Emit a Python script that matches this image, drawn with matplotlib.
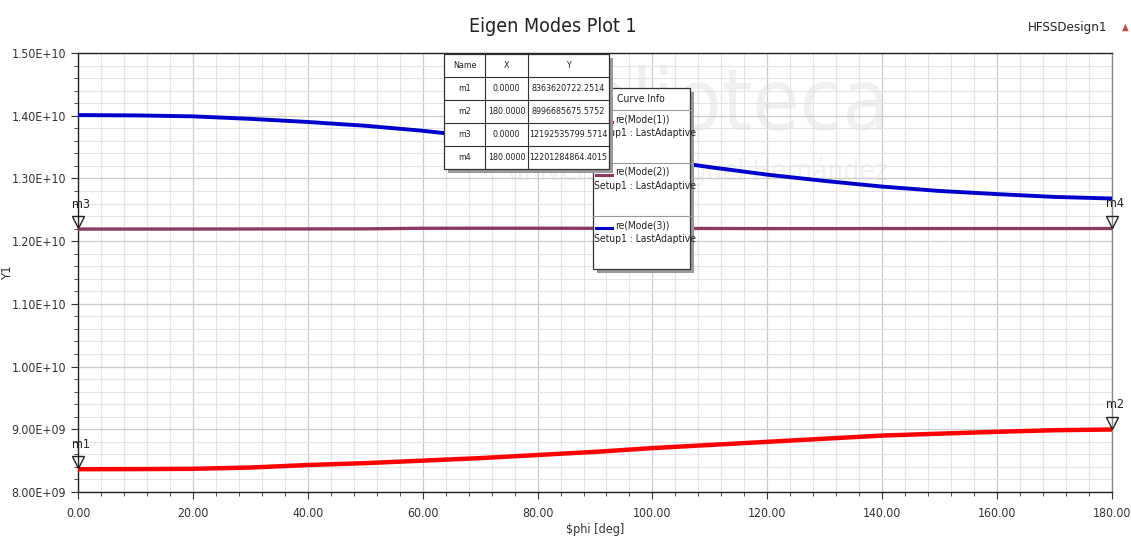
import matplotlib
matplotlib.use('Agg')
import matplotlib.pyplot as plt
import matplotlib.transforms as mtransforms
from matplotlib import font_manager as fm
from matplotlib.patches import Rectangle
from matplotlib.ticker import MultipleLocator

# look for a narrow face, like the HFSS report font
narrow = False
for fam, st in [('Liberation Sans Narrow', 'normal'), ('DejaVu Sans', 'condensed')]:
    try:
        p = fm.findfont(fm.FontProperties(family=fam, stretch=st), fallback_to_default=False)
    except Exception:
        continue
    if 'Narrow' in p or 'Condensed' in p:
        plt.rcParams['font.family'] = [fam, 'DejaVu Sans']
        plt.rcParams['font.stretch'] = st
        narrow = True
        break
if not narrow:
    plt.rcParams['font.family'] = ['Liberation Sans', 'DejaVu Sans']
k = 1.0 if narrow else 0.92

# sweep of $phi (deg)
phi = [0, 10, 20, 30, 40, 50, 60, 70, 80, 90, 100, 110, 120, 130, 140, 150, 160, 170, 180]
# re(Mode(1)) red
mode1 = [8.3636e9, 8.365e9, 8.37e9, 8.39e9, 8.43e9, 8.46e9, 8.50e9, 8.54e9, 8.59e9, 8.64e9,
         8.70e9, 8.75e9, 8.80e9, 8.85e9, 8.90e9, 8.93e9, 8.96e9, 8.985e9, 8.9967e9]
# re(Mode(2)) purple
mode2 = [1.21925e10, 1.21925e10, 1.2193e10, 1.2194e10, 1.2195e10, 1.2196e10, 1.2205e10, 1.2206e10,
         1.2206e10, 1.2205e10, 1.2204e10, 1.2202e10, 1.2200e10, 1.2200e10, 1.2201e10, 1.2201e10,
         1.2201e10, 1.2201e10, 1.22013e10]
# re(Mode(3)) blue
mode3 = [1.401e10, 1.4005e10, 1.399e10, 1.395e10, 1.390e10, 1.384e10, 1.376e10, 1.366e10, 1.355e10,
         1.343e10, 1.331e10, 1.318e10, 1.306e10, 1.296e10, 1.287e10, 1.280e10, 1.275e10, 1.2705e10,
         1.268e10]

# marker table
mk_names = ['m1', 'm2', 'm3', 'm4']
mk_x = [0.0, 180.0, 0.0, 180.0]
mk_y = [8363620722.2514, 8996685675.5752, 12192535799.5714, 12201284864.4015]

curve_names = ['re(Mode(1))', 're(Mode(2))', 're(Mode(3))']
curve_colors = ['#ff0000', '#8b3a62', '#0000cc']

W, H = 1131, 547
fig = plt.figure(figsize=(W / 100, H / 100), dpi=100)
ax = fig.add_axes([78 / W, 1 - 492 / H, (1112 - 78) / W, (492 - 53) / H])
ax.set_axisbelow(True)

# faint watermark
ax.text(0.60, 0.88, 'Biblioteca', transform=ax.transAxes, fontsize=62, color='#f0f0f0',
        ha='center', va='center', zorder=0.2, family='DejaVu Sans')
ax.text(0.60, 0.73, 'universidad Miguel Hernández', transform=ax.transAxes, fontsize=20,
        color='#f1f1f1', ha='center', va='center', zorder=0.2, family='DejaVu Sans')

ax.plot(phi, mode1, color=curve_colors[0], lw=3.2, zorder=3)
ax.plot(phi, mode2, color=curve_colors[1], lw=2.4, zorder=3)
ax.plot(phi, mode3, color=curve_colors[2], lw=2.8, zorder=3)

ax.set_xlim(0, 180)
ax.set_ylim(8e9, 1.5e10)
ax.xaxis.set_major_locator(MultipleLocator(20))
ax.xaxis.set_minor_locator(MultipleLocator(4))
ax.yaxis.set_major_locator(MultipleLocator(1e9))
ax.yaxis.set_minor_locator(MultipleLocator(2e8))
ax.set_xticks(ax.get_xticks())
ax.set_xticklabels(['%.2f' % v for v in ax.get_xticks()])
ax.set_yticks(ax.get_yticks())
ax.set_yticklabels(['%.2E' % v for v in ax.get_yticks()])
ax.set_xlim(0, 180)
ax.set_ylim(8e9, 1.5e10)
ax.tick_params(which='major', length=5, labelsize=8.8 * k, color='#333333', labelcolor='#333333')
ax.tick_params(which='minor', length=3, color='#333333')
ax.tick_params(axis='x', pad=6)
ax.grid(which='major', color='#cccccc', lw=0.9)
ax.grid(which='minor', color='#e4e4e4', lw=0.8)
for s in ax.spines.values():
    s.set_color('#222222')
    s.set_linewidth(1.0)
ax.spines['right'].set_color('#888888')

ax.set_xlabel(r'\$phi [deg]', fontsize=9 * k, color='#333333', labelpad=2)
ax.set_ylabel('Y1', fontsize=9.5 * k, color='#333333')
ax.yaxis.set_label_coords(-0.062, 0.5)

# markers
tri = mtransforms.offset_copy(ax.transData, fig=fig, x=0, y=5, units='points')
for n, xv, yv in zip(mk_names, mk_x, mk_y):
    ax.plot(xv, yv, marker='v', ms=9, mfc='none', mec='#222222', mew=1.0,
            transform=tri, clip_on=False, zorder=5)
    ax.annotate(n, (xv, yv), xytext=(2, 13), textcoords='offset points', ha='center',
                va='bottom', fontsize=9 * k, color='#222222', annotation_clip=False)

fig.text(553 / W, 1 - 27 / H, 'Eigen Modes Plot 1', fontsize=14 * k, ha='center', va='center',
         color='#222222')
fig.text(1107 / W, 1 - 28 / H, 'HFSSDesign1', fontsize=9.5 * k, ha='right', va='center',
         color='#222222')
fig.text(1125 / W, 1 - 27 / H, '\u25b2', fontsize=7, ha='center', va='center',
         color='#c0504d', family='DejaVu Sans')

# overlay in pixel coordinates for the info boxes
ov = fig.add_axes([0, 0, 1, 1], zorder=5)
ov.set_xlim(0, W)
ov.set_ylim(H, 0)
ov.axis('off')

# curve info box
fs = 7.4 * k
ov.add_patch(Rectangle((597, 92), 97, 181, fc='#9a9a9a', ec='none', zorder=1))
ov.add_patch(Rectangle((593, 88), 97, 181, fc='white', ec='#333333', lw=0.9, zorder=2))
ov.text(641, 99, 'Curve Info', fontsize=fs, ha='center', va='center', zorder=3, color='#222222')
ov.plot([593, 690], [110, 110], color='#999999', lw=0.8, zorder=3)
sep_y = [110, 163, 216]
for i, (nm, c) in enumerate(zip(curve_names, curve_colors)):
    top = sep_y[i]
    if i > 0:
        ov.plot([593, 690], [top, top], color='#999999', lw=0.8, zorder=3)
    ov.plot([596, 612], [top + 12, top + 12], color=c, lw=2.2, zorder=3)
    ov.text(615, top + 9, nm, fontsize=fs, ha='left', va='center', zorder=3, color='#222222')
    ov.text(594, top + 23, 'Setup1 : LastAdaptive', fontsize=fs, ha='left', va='center',
            zorder=3, color='#222222')

# marker table
cols = [444, 485, 528, 609]
rows = [54, 77, 100, 123, 146, 169]
ov.add_patch(Rectangle((448, 58), 165, 115, fc='#9a9a9a', ec='none', zorder=4))
ov.add_patch(Rectangle((444, 54), 165, 115, fc='white', ec='#333333', lw=0.9, zorder=5))
for xc in cols[1:-1]:
    ov.plot([xc, xc], [rows[0], rows[-1]], color='#333333', lw=0.8, zorder=6)
for yr in rows[1:-1]:
    ov.plot([cols[0], cols[-1]], [yr, yr], color='#333333', lw=0.8, zorder=6)
table = [['Name', 'X', 'Y']] + [[n, '%.4f' % xv, '%.4f' % yv]
                                for n, xv, yv in zip(mk_names, mk_x, mk_y)]
tfs = 6.4 if narrow else 5.9
for r, row in enumerate(table):
    for c, val in enumerate(row):
        ov.text((cols[c] + cols[c + 1]) / 2, (rows[r] + rows[r + 1]) / 2, val, fontsize=tfs,
                ha='center', va='center', zorder=7, color='#222222')

fig.savefig('out.png', dpi=100)
